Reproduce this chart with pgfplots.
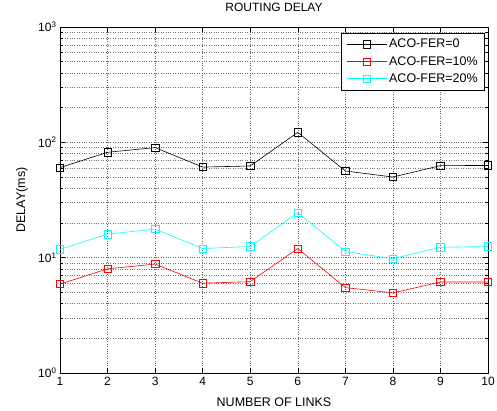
\documentclass[border=0pt]{standalone}
\usepackage{fontspec}
\setmainfont{Liberation Sans}
\usepackage{pgfplots}
\pgfplotsset{compat=1.18}

\definecolor{mcyan}{rgb}{0,1,1}

\begin{document}
\begin{tikzpicture}
\path[use as bounding box] (-60pt,-38pt) rectangle (437pt,373pt);
\begin{axis}[
  at={(0,0)}, anchor=south west,
  scale only axis,
  width=428pt, height=346pt,
  ymode=log,
  xmin=1, xmax=10, ymin=1, ymax=1000,
  xtick={1,2,...,10},
  ytick={1,10,100,1000},
  yticklabels={10\textsuperscript{0},10\textsuperscript{1},10\textsuperscript{2},10\textsuperscript{3}},
  /pgf/number format/assume math mode=true,
  tick align=inside,
  tick pos=both,
  major tick length=5pt,
  minor tick length=3pt,
  grid=both,
  major grid style={black!60, dotted, line width=0.5pt},
  minor grid style={black!55, dotted, line width=0.5pt},
  axis line style={line width=0.7pt},
  every tick/.style={black, line width=0.5pt},
  font=\fontsize{12}{13}\selectfont,
  xticklabel style={yshift=-1pt},
  title={ROUTING DELAY},
  title style={at={(axis description cs:0.5,1)}, anchor=center, yshift=14pt, font=\fontsize{12}{13}\selectfont},
  xlabel={NUMBER OF LINKS},
  xlabel style={at={(axis description cs:0.5,0)}, anchor=center, yshift=-29pt, font=\fontsize{12.5}{13}\selectfont},
  ylabel={DELAY(ms)},
  ylabel style={at={(axis description cs:-0.089,0.5)}, anchor=center, rotate=0, font=\fontsize{12.5}{13}\selectfont},
  legend style={at={(axis description cs:0.993,0.983)}, anchor=north east,
    draw=black, line width=0.6pt, fill=white, font=\fontsize{12.5}{14}\selectfont,
    row sep=3pt, inner xsep=5pt, inner ysep=4pt},
  legend cell align=left,
  legend image code/.code={
    \draw[#1, mark repeat=2, mark phase=2] plot coordinates {(0pt,0pt) (20pt,0pt) (40pt,0pt)};
  },
  every axis plot/.append style={line width=0.6pt, mark=square, mark size=3.7pt, mark options={solid, fill=none}},
]
\addplot[black] coordinates {
  (1,60.4) (2,82) (3,90) (4,61) (5,62.4) (6,122) (7,56.4) (8,50) (9,62.8) (10,63)
};
\addlegendentry{ACO-FER=0}
\addplot[red] coordinates {
  (1,5.9) (2,8.0) (3,8.8) (4,6.0) (5,6.2) (6,12.0) (7,5.5) (8,4.95) (9,6.15) (10,6.15)
};
\addlegendentry{ACO-FER=10\%}
\addplot[mcyan] coordinates {
  (1,11.8) (2,16.0) (3,17.7) (4,12.0) (5,12.5) (6,24.5) (7,11.3) (8,9.8) (9,12.3) (10,12.5)
};
\addlegendentry{ACO-FER=20\%}
\end{axis}
\end{tikzpicture}
\end{document}
